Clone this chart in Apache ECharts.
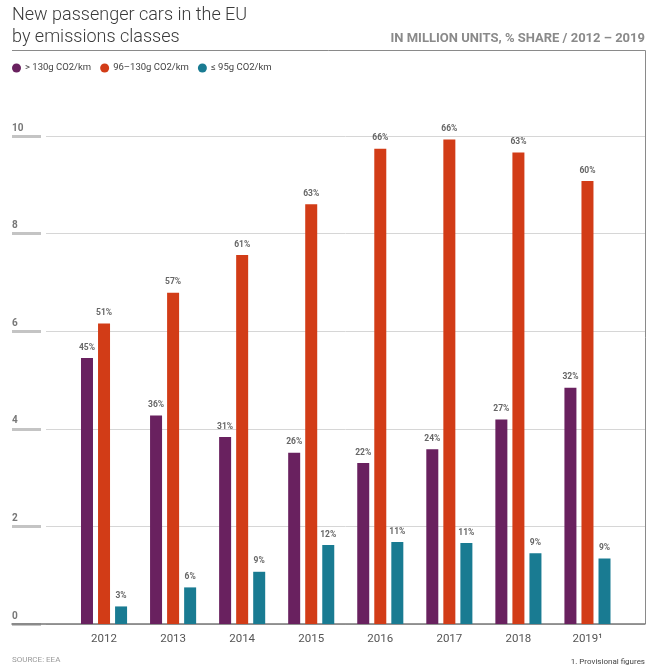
<!DOCTYPE html>
<html>
<head>
<meta charset="utf-8">
<script src="https://cdn.jsdelivr.net/npm/echarts@6/dist/echarts.min.js"></script>
<style>
html,body{margin:0;padding:0;background:#fff;}
#chart{width:657px;height:668px;}
</style>
</head>
<body>
<div id="chart"></div>
<script>
// ---- Data ----
var years = ['2012', '2013', '2014', '2015', '2016', '2017', '2018', '2019'];
var yearLabels = ['2012', '2013', '2014', '2015', '2016', '2017', '2018', '2019¹'];
var seriesNames = ['> 130g CO2/km', '96–130g CO2/km', '≤ 95g CO2/km'];
var over130 = [5.45, 4.27, 3.83, 3.51, 3.30, 3.58, 4.19, 4.84];
var mid96to130 = [6.16, 6.79, 7.56, 8.60, 9.74, 9.93, 9.66, 9.08];
var under95 = [0.36, 0.75, 1.07, 1.62, 1.68, 1.66, 1.45, 1.34];
var shareOver130 = ['45%', '36%', '31%', '26%', '22%', '24%', '27%', '32%'];
var shareMid = ['51%', '57%', '61%', '63%', '66%', '66%', '63%', '60%'];
var shareUnder95 = ['3%', '6%', '9%', '12%', '11%', '11%', '9%', '9%'];
var yTicks = [0, 2, 4, 6, 8, 10];

var colors = ['#69215f', '#d23c17', '#197b92'];
var FONT = 'Roboto';

var chart = echarts.init(document.getElementById('chart'), null, {renderer: 'canvas'});

var TOP = 136, BOTTOM = 44;
function yAx(extra) {
  return Object.assign({
    type: 'value', min: yTicks[0], max: yTicks[yTicks.length - 1], interval: 2,
    axisLine: {show: false}, axisTick: {show: false}, axisLabel: {show: false},
    splitLine: {show: false}
  }, extra);
}
function hiddenX(i, extra) {
  return Object.assign({
    type: 'category', gridIndex: i, data: years,
    axisLine: {show: false}, axisTick: {show: false}, axisLabel: {show: false}, splitLine: {show: false}
  }, extra);
}

function mkSeries(name, data, shares, idx) {
  return {
    name: name, type: 'bar', xAxisIndex: 3, yAxisIndex: 3,
    data: data, barWidth: 12, barGap: '42%',
    itemStyle: {color: colors[idx]},
    label: {
      show: true, position: 'top', distance: 6,
      formatter: function (p) { return shares[p.dataIndex]; },
      color: '#666666', fontSize: 8.5, fontWeight: 'bold', fontFamily: FONT
    },
    emphasis: {disabled: true}
  };
}

var option = {
  animation: false,
  backgroundColor: '#ffffff',
  textStyle: {fontFamily: FONT},
  title: [
    {
      text: 'New passenger cars in the EU\nby emissions classes',
      left: 12, top: 4, padding: 0,
      textStyle: {fontSize: 18, fontWeight: 300, color: '#3a3a3a', lineHeight: 22, fontFamily: FONT}
    },
    {
      text: 'IN MILLION UNITS, % SHARE / 2012 – 2019',
      right: 12, top: 32, padding: 0,
      textStyle: {fontSize: 13, fontWeight: 'bold', color: '#8a8a8a', fontFamily: FONT}
    },
    {
      text: 'SOURCE: EEA',
      left: 12, top: 656, padding: 0,
      textStyle: {fontSize: 8, fontWeight: 'normal', color: '#9a9a9a', fontFamily: FONT}
    },
    {
      text: '1. Provisional figures',
      right: 12, top: 658, padding: 0,
      textStyle: {fontSize: 8, fontWeight: 'normal', color: '#444', fontFamily: FONT}
    }
  ],
  legend: {
    left: 12, top: 63, padding: 0,
    icon: 'circle', itemWidth: 9, itemHeight: 9, itemGap: 9,
    data: seriesNames,
    textStyle: {fontSize: 9.5, color: '#444', fontFamily: FONT, padding: [0, 0, 0, -1]},
    selectedMode: false
  },
  graphic: [
    {
      type: 'polyline', silent: true,
      shape: {points: [[12, 50.5], [645.5, 50.5], [645.5, 624]]},
      style: {stroke: '#8a8a8a', lineWidth: 1, fill: null}
    }
  ],
  grid: [
    {left: 12, right: 12, top: TOP, bottom: BOTTOM},
    {left: 12, width: 29, top: TOP, bottom: BOTTOM},
    {left: 46, right: 12, top: TOP, bottom: BOTTOM},
    {left: 69.5, right: 35, top: TOP, bottom: BOTTOM}
  ],
  xAxis: [
    hiddenX(0, {axisLine: {show: true, lineStyle: {color: '#777', width: 1.5}}}),
    hiddenX(1),
    hiddenX(2),
    {
      type: 'category', gridIndex: 3, data: yearLabels,
      axisLine: {show: false}, axisTick: {show: false},
      axisLabel: {
        interval: 0, margin: 9, fontSize: 11.5, color: '#555', fontFamily: FONT
      }
    }
  ],
  yAxis: [
    yAx({gridIndex: 0, axisLabel: {
      show: true, inside: true, margin: 0, align: 'left', verticalAlign: 'bottom',
      padding: [0, 0, 3, 0], fontSize: 10, fontWeight: 'bold', color: '#777', fontFamily: FONT
    }}),
    yAx({gridIndex: 1, splitLine: {show: true, lineStyle: {color: '#c4c4c4', width: 3}}}),
    yAx({gridIndex: 2, splitLine: {show: true, lineStyle: {color: '#d6d6d6', width: 1}}}),
    yAx({gridIndex: 3})
  ],
  series: [
    mkSeries(seriesNames[0], over130, shareOver130, 0),
    mkSeries(seriesNames[1], mid96to130, shareMid, 1),
    mkSeries(seriesNames[2], under95, shareUnder95, 2)
  ]
};
chart.setOption(option);
</script>
</body>
</html>
